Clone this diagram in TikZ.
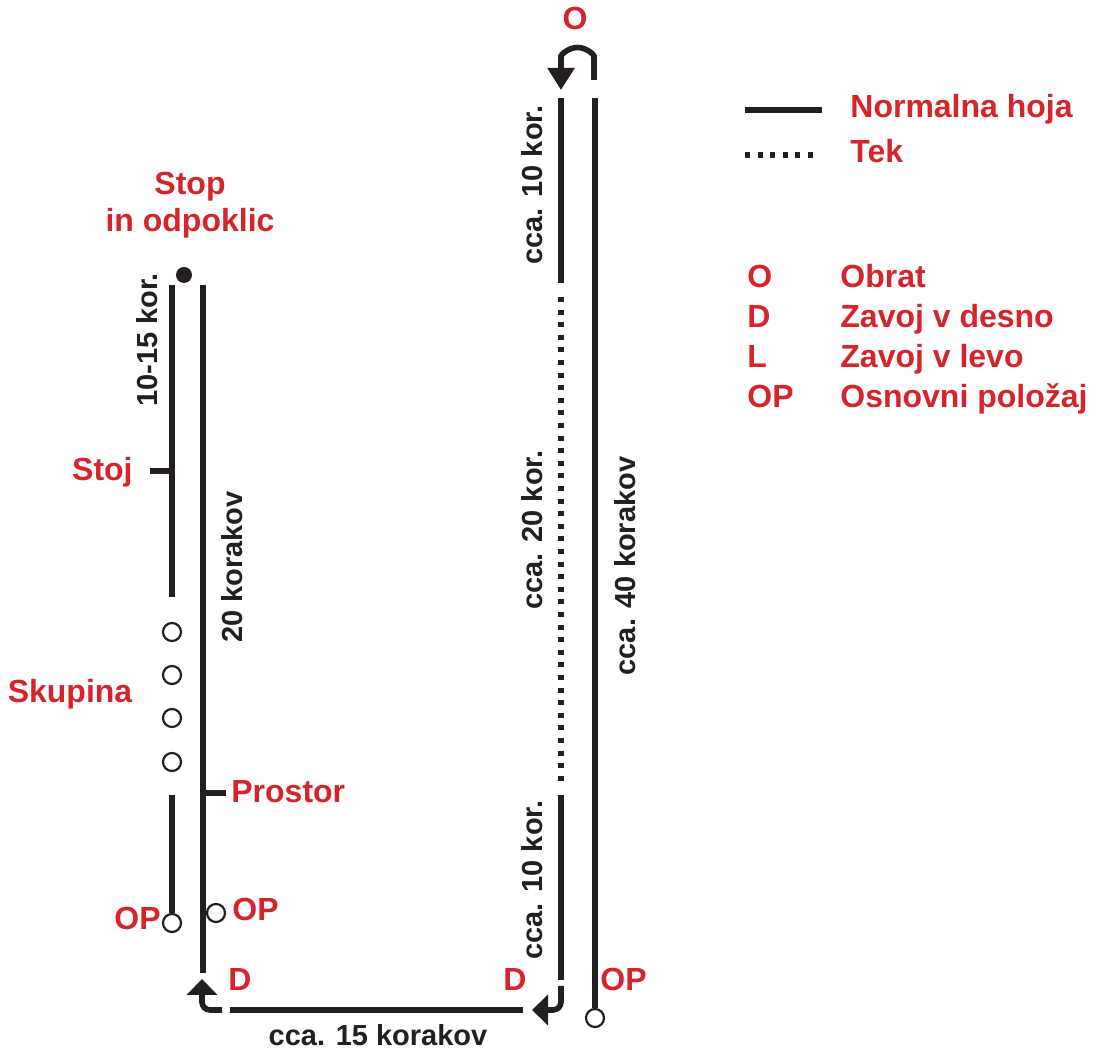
\documentclass[tikz,border=0pt]{standalone}
\usepackage{fontspec}
\setmainfont{Liberation Sans}
\usepackage{xcolor}
\usetikzlibrary{arrows.meta}
\definecolor{ink}{HTML}{231F20}
\definecolor{signal}{HTML}{D7232A}
\tikzset{
  trk/.style={draw=ink, line width=2.8pt},
  tek/.style={draw=ink, line width=2.8pt, dash pattern=on 2.5pt off 3.8pt},
  turn/.style={draw=ink, line width=2.8pt, rounded corners=4pt, -{Triangle[width=15pt,length=8pt]}},
  ring/.style={circle, draw=ink, fill=white, line width=1.1pt, minimum size=9pt, inner sep=0pt},
  lab/.style={text=signal, font=\bfseries\fontsize{16}{18.5}\selectfont, inner sep=0pt, text height=0.72em, text depth=0pt},
  labk/.style={text=ink, font=\bfseries\fontsize{14.5}{17}\selectfont, inner sep=0pt, text height=0.72em, text depth=0pt},
}
\begin{document}
\begin{tikzpicture}[x=0.5pt,y=-0.5pt]
  \useasboundingbox[fill=white] (0,0) rectangle (1099,1052);

  % left track: start of the exercise
  \node[circle, fill=ink, minimum size=8pt, inner sep=0pt] (stop) at (184,275) {};
  \draw[trk] (172,285) -- (172,597);
  \draw[trk] (150,471) -- (172,471);
  \foreach \y [count=\i] in {632,675,718,762}
    \node[ring] (grp\i) at (172,\y) {};
  \node[ring] (opA) at (172,923) {};
  \draw[trk] (172,795) -- (opA.north);
  \draw[trk] (203,285) -- (203,973);
  \draw[trk] (203,793) -- (226,793);
  \node[ring] (opB) at (216,913) {};

  % turns at the bottom
  \draw[turn] (222,1010) -| (202,979);
  \draw[trk] (230,1010) -- (523,1010);
  \draw[turn] (561,986) |- (532,1010);

  % right track: out and back
  \draw[trk] (561,98) -- (561,283);
  \draw[tek] (561,297) -- (561,785);
  \draw[trk] (561,795) -- (561,980);
  \node[ring] (opC) at (595,1018) {};
  \draw[trk] (595,98) -- (opC.north);
  \draw[turn, -{Triangle[width=13pt,length=11pt]}] (594,80) -- (594,64)
    arc[start angle=0, end angle=-180, radius=16.5] -- (561,90);

  % red labels
  \node[lab, align=center] (stoplab) at (190,224) {Stop\\in odpoklic};
  \node[lab, anchor=east] (stoj) at (133,473) {Stoj};
  \node[lab] (skup) at (70,695) {Skupina};
  \node[lab, anchor=west] (pros) at (231,795) {Prostor};
  \node[lab, anchor=east] (opAl) at (161,922) {OP};
  \node[lab, anchor=west] (opBl) at (232,913) {OP};
  \node[lab] (dA) at (240,983) {D};
  \node[lab] (dB) at (515,983) {D};
  \node[lab, anchor=west] (opCl) at (600,983) {OP};
  \node[lab] (obrat) at (575,22) {O};

  % step counts
  \node[labk, rotate=90] at (150,340) {10-15 kor.};
  \node[labk, rotate=90] at (235,567) {20 korakov};
  \node[labk, rotate=90] at (535,185) {cca. 10 kor.};
  \node[labk, rotate=90] at (535,530) {cca. 20 kor.};
  \node[labk, rotate=90] at (535,880) {cca. 10 kor.};
  \node[labk, rotate=90] at (628,566) {cca. 40 korakov};
  \node[labk] at (378,1038) {cca. 15 korakov};

  % legend
  \draw[trk] (745,110) -- (822,110);
  \draw[tek] (745,155) -- (818,155);
  \node[lab, anchor=west] at (850,110) {Normalna hoja};
  \node[lab, anchor=west] at (850,155) {Tek};
  \foreach \k/\t [count=\i] in {O/Obrat, D/Zavoj v desno, L/Zavoj v levo, OP/Osnovni položaj} {
    \node[lab, anchor=west] (key\i) at (747,240+40*\i) {\k};
    \node[lab, anchor=west] (txt\i) at (840,240+40*\i) {\t};
  }
\end{tikzpicture}
\end{document}
